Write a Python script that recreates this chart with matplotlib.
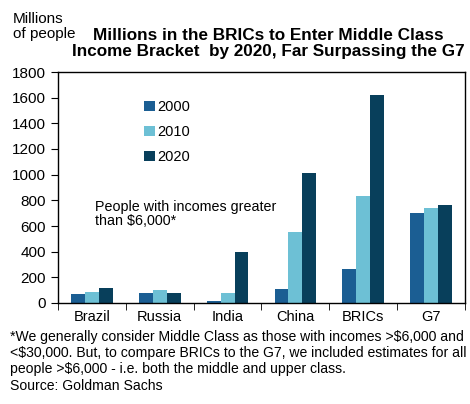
import numpy as np
import matplotlib.pyplot as plt

plt.rcParams['font.family'] = ['Liberation Sans', 'DejaVu Sans']

regions = ["Brazil", "Russia", "India", "China", "BRICs", "G7"]
years = ["2000", "2010", "2020"]
v2000 = [68, 80, 15, 109, 262, 699]
v2010 = [88, 101, 80, 553, 836, 740]
v2020 = [119, 80, 400, 1010, 1620, 766]
colors = ["#1B5E93", "#6DC0D5", "#083F5B"]

fig = plt.figure(figsize=(4.7, 4.04), dpi=100)
ax = fig.add_axes([58 / 470, 1 - 303 / 404, (465 - 58) / 470, (303 - 72) / 404])

x = np.arange(len(regions))
w = 0.205
for i, (vals, yr) in enumerate(zip([v2000, v2010, v2020], years)):
    ax.bar(x + (i - 1) * w, vals, width=w, color=colors[i], label=yr)

ax.set_xlim(-0.5, len(regions) - 0.5)
ax.set_ylim(0, 1800)
ax.set_yticks(range(0, 1801, 200))
ax.set_xticks(x)
ax.set_xticklabels(regions, fontsize=10.5)
ax.set_xticks(np.arange(-0.5, len(regions) + 0.5, 1), minor=True)
ax.tick_params(axis='x', which='major', length=0, pad=5)
ax.tick_params(axis='x', which='minor', length=5, direction='out')
ax.tick_params(axis='y', labelsize=11, length=5, direction='out')
for s in ax.spines.values():
    s.set_linewidth(1.0)

ax.legend(loc='upper left', bbox_to_anchor=(0.18, 0.935), frameon=False,
          fontsize=10.5, handlelength=0.7, handleheight=0.7, handletextpad=0.2,
          labelspacing=0.75)

ax.text(0.09, 0.445, "People with incomes greater\nthan $6,000*", transform=ax.transAxes,
        fontsize=10.3, va='top', ha='left', linespacing=1.0)

fig.text(13 / 470, 1 - 12 / 404, "Millions\nof people", fontsize=11, va='top', ha='left',
         linespacing=1.05)
fig.text(268 / 470, 1 - 28 / 404, "Millions in the BRICs to Enter Middle Class\nIncome Bracket  by 2020, Far Surpassing the G7",
         fontsize=12.3, fontweight='bold', va='top', ha='center', linespacing=1.05)

fig.text(10 / 470, 1 - 330 / 404,
         "*We generally consider Middle Class as those with incomes >$6,000 and\n"
         "<$30,000. But, to compare BRICs to the G7, we included estimates for all\n"
         "people >$6,000 - i.e. both the middle and upper class.\n"
         "Source: Goldman Sachs",
         fontsize=10.1, va='top', ha='left', linespacing=1.2)

fig.savefig("out.png", dpi=100)
